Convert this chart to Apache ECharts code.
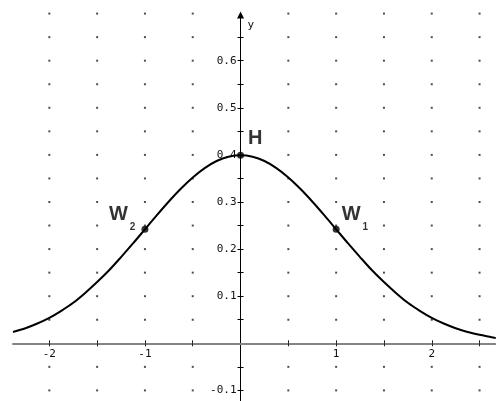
<!DOCTYPE html>
<html>
<head>
<meta charset="utf-8">
<script src="https://cdn.jsdelivr.net/npm/echarts@6/dist/echarts.min.js"></script>
<style>
  html, body { margin: 0; padding: 0; background: #fff; }
  #chart { width: 496px; height: 401px; }
</style>
</head>
<body>
<div id="chart"></div>
<script>
// Bell curve samples (x, density)
const curveX = [-2.38, -2.25, -2.125, -2, -1.875, -1.75, -1.625, -1.5, -1.375, -1.25, -1.125,
                -1, -0.875, -0.75, -0.625, -0.5, -0.375, -0.25, -0.125, 0,
                0.125, 0.25, 0.375, 0.5, 0.625, 0.75, 0.875, 1,
                1.125, 1.25, 1.375, 1.5, 1.625, 1.75, 1.875, 2, 2.125, 2.25, 2.375, 2.5, 2.625, 2.67];
const curveY = [0.024, 0.032, 0.042, 0.054, 0.069, 0.086, 0.107, 0.130, 0.155, 0.183, 0.212,
                0.242, 0.272, 0.301, 0.328, 0.352, 0.372, 0.387, 0.396, 0.399,
                0.396, 0.387, 0.372, 0.352, 0.328, 0.301, 0.272, 0.242,
                0.212, 0.183, 0.155, 0.130, 0.107, 0.086, 0.069, 0.054, 0.042, 0.032, 0.024, 0.018, 0.013, 0.011];

// Marked points: maximum H and inflection points W1, W2
const pointNames = ['H', 'W1', 'W2'];
const pointX = [0, 1, -1];
const pointY = [0.399, 0.242, 0.242];

// Tick positions and labelled values
const xTicks = [-2, -1.5, -1, -0.5, 0.5, 1, 1.5, 2, 2.5];
const xLabels = [-2, -1, 1, 2];
const yTicks = [-0.1, -0.05, 0.05, 0.1, 0.15, 0.2, 0.25, 0.3, 0.35, 0.4, 0.45, 0.5, 0.55, 0.6, 0.65];
const yLabels = [-0.1, 0.1, 0.2, 0.3, 0.4, 0.5, 0.6];

// Dotted background lattice
const dotX = [-2, -1.5, -1, -0.5, 0.5, 1, 1.5, 2, 2.5];
const dotY = [-0.1, -0.05, 0.05, 0.1, 0.15, 0.2, 0.25, 0.3, 0.35, 0.4, 0.45, 0.5, 0.55, 0.6, 0.65, 0.7];

const dots = [];
dotX.forEach(x => dotY.forEach(y => dots.push([x, y])));
const curve = curveX.map((x, i) => [x, curveY[i]]);

const tickFont = { fontFamily: 'DejaVu Sans Mono', fontSize: 11, color: '#111' };

const labelStyles = {
  H:  { position: [11, -23], align: 'left' },
  W1: { position: [9, -21], align: 'left' },
  W2: { position: [-6, -21], align: 'right' }
};
const points = pointNames.map((name, i) => ({
  name: name,
  value: [pointX[i], pointY[i]],
  label: {
    show: true,
    position: labelStyles[name].position,
    align: labelStyles[name].align,
    verticalAlign: 'top',
    formatter: name === 'H' ? '{w|H}' : '{w|W}{s|' + name.slice(1) + '}',
    rich: {
      w: { fontFamily: 'Liberation Sans', fontWeight: 'bold', fontSize: 20, lineHeight: 20, color: '#000', verticalAlign: 'top' },
      s: { fontFamily: 'Liberation Sans', fontWeight: 'bold', fontSize: 10, lineHeight: 27, color: '#000', verticalAlign: 'bottom', padding: [0, 0, 0, 2] }
    }
  }
}));

// Plot window; the axes cross at the origin
const xMin = -2.38, xMax = 2.672, yMin = -0.1225, yMax = 0.697;
const gridLeft = 13, gridTop = 15, W = 496, H = 401;
const plotW = W - gridLeft, plotH = H - gridTop;
// distance of the origin from the left and bottom edges of the plot
const yAxisOffset = -((0 - xMin) / (xMax - xMin)) * plotW;
const xAxisOffset = -((0 - yMin) / (yMax - yMin)) * plotH;

const chart = echarts.init(document.getElementById('chart'), null, { renderer: 'canvas' });
chart.setOption({
  animation: false,
  backgroundColor: '#fff',
  grid: { left: gridLeft, right: 0, top: gridTop, bottom: 0, containLabel: false, outerBoundsMode: 'none' },
  xAxis: [
    {
      type: 'value', min: xMin, max: xMax, position: 'bottom', offset: xAxisOffset,
      axisLine: { onZero: false, lineStyle: { color: '#858585', width: 2 } },
      axisTick: { show: true, customValues: xTicks, length: 3, lineStyle: { color: '#222', width: 1 } },
      axisLabel: { customValues: xLabels, margin: 5, ...tickFont, formatter: v => String(v) },
      splitLine: { show: false }
    },
    {
      type: 'value', min: xMin, max: xMax, position: 'bottom', offset: xAxisOffset,
      axisLine: { show: false, onZero: false },
      axisTick: { show: true, inside: true, customValues: xTicks, length: 3, lineStyle: { color: '#222', width: 1 } },
      axisLabel: { show: false },
      splitLine: { show: false }
    }
  ],
  yAxis: [
    {
      type: 'value', min: yMin, max: yMax, position: 'left', offset: yAxisOffset,
      name: 'y',
      nameLocation: 'end',
      nameGap: -10,
      nameTextStyle: { fontFamily: 'DejaVu Sans Mono', fontSize: 11, color: '#111', align: 'left', verticalAlign: 'middle', padding: [0, 0, 0, 7] },
      axisLine: { onZero: false, symbol: ['none', 'triangle'], symbolSize: [7, 7], lineStyle: { color: '#000', width: 1 } },
      axisTick: { show: true, customValues: yTicks, length: 3, lineStyle: { color: '#000', width: 1 } },
      axisLabel: { customValues: yLabels, margin: 4, ...tickFont, formatter: v => v.toFixed(1) },
      splitLine: { show: false }
    },
    {
      type: 'value', min: yMin, max: yMax, position: 'left', offset: yAxisOffset,
      axisLine: { show: false, onZero: false },
      axisTick: { show: true, inside: true, customValues: yTicks, length: 3, lineStyle: { color: '#000', width: 1 } },
      axisLabel: { show: false },
      splitLine: { show: false }
    }
  ],
  series: [
    {
      type: 'scatter', data: dots, symbol: 'rect', symbolSize: 2,
      itemStyle: { color: '#222' }, silent: true, clip: false, z: 1
    },
    {
      type: 'line', data: curve, smooth: 0.3, showSymbol: false,
      lineStyle: { color: '#000', width: 2 }, silent: true, z: 3
    },
    {
      type: 'scatter', data: points, symbol: 'circle', symbolSize: 7,
      itemStyle: { color: '#000' }, z: 4
    }
  ]
});
</script>
</body>
</html>
